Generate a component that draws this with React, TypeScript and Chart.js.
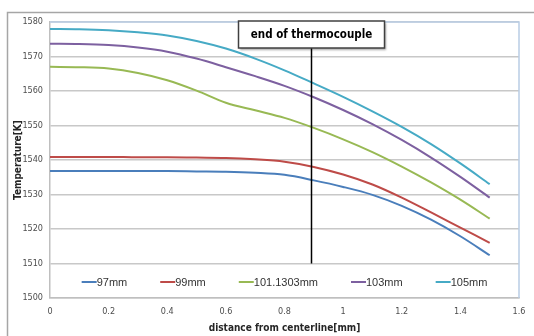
import React, { useEffect, useRef } from "react";
import { Chart, registerables } from "chart.js";

Chart.register(...registerables);

const distance = [0, 0.1, 0.2, 0.3, 0.4, 0.5, 0.6, 0.7, 0.8, 0.9, 1.0, 1.1, 1.2, 1.3, 1.4, 1.5];
const series97 = [1536.8, 1536.8, 1536.8, 1536.8, 1536.8, 1536.7, 1536.6, 1536.3, 1535.7, 1534.1, 1532.2, 1529.9, 1526.7, 1522.7, 1517.9, 1512.4];
const series99 = [1540.9, 1540.9, 1540.9, 1540.8, 1540.8, 1540.7, 1540.6, 1540.2, 1539.5, 1538.0, 1535.8, 1532.9, 1529.1, 1524.8, 1520.4, 1516.0];
const series101 = [1567.0, 1566.9, 1566.5, 1565.2, 1563.1, 1560.1, 1556.6, 1554.4, 1552.2, 1549.3, 1546.0, 1542.3, 1538.1, 1533.5, 1528.5, 1523.0];
const series103 = [1573.7, 1573.6, 1573.3, 1572.6, 1571.4, 1569.4, 1566.9, 1564.3, 1561.5, 1558.2, 1554.5, 1550.4, 1545.8, 1540.7, 1535.1, 1529.1];
const series105 = [1578.0, 1577.9, 1577.6, 1577.0, 1576.1, 1574.5, 1572.3, 1569.4, 1566.0, 1562.2, 1558.3, 1554.1, 1549.6, 1544.6, 1539.0, 1533.0];

const seriesNames = ["97mm", "99mm", "101.1303mm", "103mm", "105mm"];
const seriesColors = ["#4a7ebb", "#be4b48", "#98b954", "#7d60a0", "#46aac5"];

const xMin = 0;
const xMax = 1.6;
const xStep = 0.2;
const yMin = 1500;
const yMax = 1580;
const yStep = 10;

const thermocoupleEnd = 0.89;
const thermocoupleLineBottom = 1510;
const annotationText = "end of thermocouple";
const xTitle = "distance from centerline[mm]";
const yTitle = "Temperature[K]";

const TICK_FONT = "'Liberation Sans Narrow', 'DejaVu Sans Condensed', sans-serif";
const TEXT_FONT = "'Liberation Sans', Arial, sans-serif";

const decorPlugin = {
  id: "decor",
  beforeDraw(chart: any) {
    const ctx = chart.ctx;
    ctx.save();
    ctx.fillStyle = "#ffffff";
    ctx.fillRect(0, 0, chart.width, chart.height);
    ctx.strokeStyle = "#a6a6a6";
    ctx.lineWidth = 1.5;
    ctx.beginPath();
    ctx.moveTo(7.5, chart.height);
    ctx.lineTo(7.5, 12.5);
    ctx.lineTo(chart.width, 12.5);
    ctx.stroke();
    ctx.restore();
  },
  afterDatasetsDraw(chart: any) {
    const ctx = chart.ctx;
    const { left, right, top, bottom } = chart.chartArea;
    const xs = chart.scales.x;
    const ys = chart.scales.y;
    ctx.save();
    // plot area border (top/right light blue)
    ctx.strokeStyle = "#b9cde5";
    ctx.lineWidth = 1.5;
    ctx.beginPath();
    ctx.moveTo(left, top);
    ctx.lineTo(right, top);
    ctx.lineTo(right, bottom);
    ctx.stroke();

    // annotation: vertical line and label box
    const lx = Math.round(xs.getPixelForValue(thermocoupleEnd)) + 0.5;
    const boxW = 146;
    const boxH = 27;
    const boxTop = top - 1;
    const boxLeft = lx - boxW / 2;
    ctx.strokeStyle = "#000000";
    ctx.lineWidth = 1.5;
    ctx.beginPath();
    ctx.moveTo(lx, ys.getPixelForValue(thermocoupleLineBottom));
    ctx.lineTo(lx, boxTop + boxH);
    ctx.stroke();

    ctx.save();
    ctx.shadowColor = "rgba(0,0,0,0.35)";
    ctx.shadowOffsetX = 1.5;
    ctx.shadowOffsetY = 1.5;
    ctx.shadowBlur = 2;
    ctx.fillStyle = "#ffffff";
    ctx.fillRect(boxLeft, boxTop, boxW, boxH);
    ctx.restore();
    ctx.strokeStyle = "#404040";
    ctx.lineWidth = 1.5;
    ctx.strokeRect(boxLeft, boxTop, boxW, boxH);
    ctx.fillStyle = "#000000";
    ctx.font = `bold 11.5px ${TICK_FONT}`;
    ctx.textAlign = "center";
    ctx.textBaseline = "middle";
    ctx.fillText(annotationText, lx, boxTop + boxH / 2 + 1);

    // legend inside plot area
    ctx.font = `11px ${TEXT_FONT}`;
    ctx.textAlign = "left";
    const sampleW = 15;
    const gap = 33;
    const widths = seriesNames.map((n) => sampleW + ctx.measureText(n).width);
    const total = widths.reduce((a, b) => a + b, 0) + gap * (widths.length - 1);
    let x = (left + right) / 2 - total / 2;
    const ly = 282;
    seriesNames.forEach((name, i) => {
      ctx.strokeStyle = seriesColors[i];
      ctx.lineWidth = 2;
      ctx.beginPath();
      ctx.moveTo(x, ly);
      ctx.lineTo(x + sampleW, ly);
      ctx.stroke();
      ctx.fillStyle = "#333333";
      ctx.fillText(name, x + sampleW, ly + 0.5);
      x += widths[i] + gap;
    });
    ctx.restore();
  },
};

export default function App() {
  const canvasRef = useRef<HTMLCanvasElement | null>(null);

  useEffect(() => {
    const canvas = canvasRef.current;
    if (!canvas) return;
    const allSeries = [series97, series99, series101, series103, series105];
    const chart = new Chart(canvas, {
      type: "line",
      data: {
        datasets: allSeries.map((s, i) => ({
          label: seriesNames[i],
          data: s.map((v, j) => ({ x: distance[j], y: v })),
          borderColor: seriesColors[i],
          backgroundColor: seriesColors[i],
          borderWidth: 2,
          pointRadius: 0,
          tension: 0.4,
          cubicInterpolationMode: "monotone" as const,
          fill: false,
        })),
      },
      options: {
        animation: false,
        responsive: false,
        devicePixelRatio: 1,
        layout: { padding: { left: 0, right: 15, top: 22, bottom: 0 } },
        plugins: {
          legend: { display: false },
          tooltip: { enabled: false },
        },
        scales: {
          x: {
            type: "linear",
            min: xMin,
            max: xMax,
            afterFit: (scale: any) => {
              scale.height = 38;
            },
            ticks: {
              stepSize: xStep,
              padding: 8,
              color: "#4d4d4d",
              font: { family: TICK_FONT, size: 9 },
              callback: (v: any) => String(Number(Number(v).toFixed(1))),
            },
            grid: { display: false, drawTicks: false },
            border: { display: true, color: "#bfbfbf", width: 1.5 },
            title: {
              display: true,
              text: xTitle,
              color: "#262626",
              font: { family: TICK_FONT, size: 10, weight: "bold" },
              padding: { top: 0, bottom: 2 },
            },
          },
          y: {
            type: "linear",
            min: yMin,
            max: yMax,
            afterFit: (scale: any) => {
              scale.width = 50;
            },
            ticks: {
              stepSize: yStep,
              padding: 7,
              color: "#4d4d4d",
              font: { family: TICK_FONT, size: 9 },
              callback: (v: any) => String(v),
            },
            grid: { color: "#c8c8c8", lineWidth: 1.5, drawTicks: false },
            border: { display: true, color: "#bfbfbf", width: 1.5 },
            title: {
              display: true,
              text: yTitle,
              color: "#262626",
              font: { family: TICK_FONT, size: 10, weight: "bold" },
              padding: { top: 12, bottom: 0 },
            },
          },
        },
      },
      plugins: [decorPlugin],
    });
    return () => chart.destroy();
  }, []);

  return (
    <div style={{ position: "absolute", left: 0, top: 0, width: 534, height: 336 }}>
      <canvas ref={canvasRef} width={534} height={336} style={{ display: "block" }} />
    </div>
  );
}
